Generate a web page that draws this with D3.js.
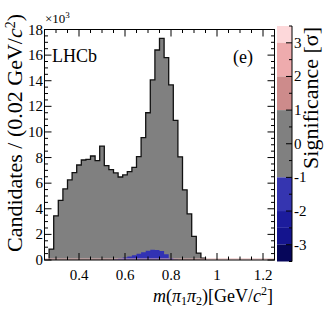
<!DOCTYPE html>
<html><head><meta charset="utf-8">
<script src="https://cdn.jsdelivr.net/npm/d3@7"></script>
<style>html,body{margin:0;padding:0;background:#fff;} svg{display:block;} text{font-family:"Liberation Serif","Times New Roman",serif;fill:#000;}</style>
</head><body>
<svg id="c" width="324" height="313"></svg>
<script>
// ---- data (values in units of 10^3 candidates per 0.02 GeV/c^2) ----
const binLow = [0.27,0.29,0.31,0.33,0.35,0.37,0.39,0.41,0.43,0.45,0.47,0.49,0.51,0.53,0.55,0.57,0.59,0.61,0.63,0.65,0.67,0.69,0.71,0.73,0.75,0.77,0.79,0.81,0.83,0.85,0.87,0.89,0.91,0.93];
const totalCounts = [0.85,3.45,4.66,5.55,6.25,6.82,7.42,7.81,7.86,8.12,7.76,8.9,7.37,7.05,6.8,6.48,6.64,6.9,7.24,8.07,9.55,11.5,14.06,16.4,17.3,15.8,13.67,10.9,8.06,5.48,3.6,1.84,0.54,0.15];
const blueLow = [0.55,0.57,0.59,0.61,0.63,0.65,0.67,0.69,0.71,0.73,0.75,0.77,0.79,0.81];
const blueCounts = [0.05,0.12,0.2,0.28,0.38,0.48,0.6,0.72,0.8,0.78,0.7,0.45,0.15,0.03];
const binWidth = 0.02;
const xTicks = [0.4,0.6,0.8,1.0,1.2];
const yTicks = [0,2,4,6,8,10,12,14,16,18];
const sigBands = [3,2,1,-1,-2,-2.5,-3,-3.5];
const sigBandColors = ["#fdd8da","#eeabad","#cd8b8b","#808080","#3535b0","#1c1c9c","#14148e","#06065a"];
const sigTicks = [3,2,1,0,-1,-2,-3];

const svg = d3.select("#c");
const x = d3.scaleLinear().domain([0.25,1.25]).range([44.5,274.5]);
const y = d3.scaleLinear().domain([0,18]).range([260,29.5]);
const s = d3.scaleLinear().domain([-3.5,3.5]).range([261.5,26]);

function stepPath(lows, vals){
  let p = `M${x(lows[0])},${y(0)}`;
  lows.forEach((l,i)=>{ p += `L${x(l)},${y(vals[i])}L${x(l+binWidth)},${y(vals[i])}`; });
  p += `L${x(lows[lows.length-1]+binWidth)},${y(0)}`;
  return p;
}
svg.append("path").attr("d", stepPath(binLow,totalCounts)+"Z")
  .attr("fill","#808080").attr("stroke","none");
svg.append("path").attr("d", stepPath(blueLow,blueCounts)+"Z")
  .attr("fill","#3232b4").attr("stroke","none");
svg.append("path").attr("d", stepPath(binLow,totalCounts))
  .attr("fill","none").attr("stroke","#111").attr("stroke-width",1.3);
svg.append("line").attr("x1",x(0.25)).attr("x2",x(1.25)).attr("y1",y(0)-1).attr("y2",y(0)-1)
  .attr("stroke","#e8b4b4").attr("stroke-width",1.2);

svg.append("rect").attr("x",x(0.25)).attr("y",y(18)).attr("width",x(1.25)-x(0.25)).attr("height",y(0)-y(18))
  .attr("fill","none").attr("stroke","#000").attr("stroke-width",1);

const g = svg.append("g").attr("stroke","#000").attr("stroke-width",1);
d3.range(0.25,1.2501,0.05).forEach(v=>{
  const major = xTicks.some(t=>Math.abs(t-v)<1e-6);
  const L = major?7:3.5;
  g.append("line").attr("x1",x(v)).attr("x2",x(v)).attr("y1",y(0)).attr("y2",y(0)-L);
  g.append("line").attr("x1",x(v)).attr("x2",x(v)).attr("y1",y(18)).attr("y2",y(18)+L);
});
d3.range(0,18.001,0.5).forEach(v=>{
  const major = yTicks.some(t=>Math.abs(t-v)<1e-6);
  const L = major?7:3.5;
  g.append("line").attr("y1",y(v)).attr("y2",y(v)).attr("x1",x(0.25)).attr("x2",x(0.25)+L);
  g.append("line").attr("y1",y(v)).attr("y2",y(v)).attr("x1",x(1.25)).attr("x2",x(1.25)-L);
});

const fmt = d3.format("~g");
svg.selectAll(".xl").data(xTicks).enter().append("text")
  .attr("x",d=>x(d)).attr("y",280).attr("text-anchor","middle").attr("font-size",15).text(d=>fmt(d));
svg.selectAll(".yl").data(yTicks).enter().append("text")
  .attr("x",43).attr("y",d=>y(d)+5).attr("text-anchor","end").attr("font-size",15).text(d=>fmt(d));

const e = svg.append("text").attr("x",45).attr("y",23).attr("font-size",13);
e.append("tspan").text("×10");
e.append("tspan").attr("dy",-5).attr("font-size",9).text("3");

svg.append("text").attr("x",52).attr("y",62).attr("font-size",18).text("LHCb");
svg.append("text").attr("x",233).attr("y",63).attr("font-size",18).text("(e)");

const xt = svg.append("text").attr("x",273).attr("y",302).attr("text-anchor","end").attr("font-size",18);
xt.append("tspan").attr("font-style","italic").text("m");
xt.append("tspan").text("(");
xt.append("tspan").attr("font-style","italic").text("π");
xt.append("tspan").attr("font-size",12).attr("dy",3).text("1");
xt.append("tspan").attr("font-style","italic").attr("dy",-3).text("π");
xt.append("tspan").attr("font-size",12).attr("dy",3).text("2");
xt.append("tspan").attr("dy",-3).text(")[GeV/");
xt.append("tspan").attr("font-style","italic").text("c");
xt.append("tspan").attr("font-size",12).attr("dy",-7).text("2");
xt.append("tspan").attr("dy",7).text("]");

const yt = svg.append("text").attr("transform","translate(22,14) rotate(-90)").attr("text-anchor","end").attr("font-size",22);
yt.append("tspan").text("Candidates / (0.02 GeV/");
yt.append("tspan").attr("font-style","italic").text("c");
yt.append("tspan").attr("font-size",14).attr("dy",-7).text("2");
yt.append("tspan").attr("dy",7).text(")");

const cbx0 = 277, cbx1 = 292;
const tops = [3.5].concat(sigBands.slice(0,-1));
sigBands.forEach((lo,i)=>{
  svg.append("rect").attr("x",cbx0).attr("width",cbx1-cbx0)
    .attr("y",s(tops[i])).attr("height",s(lo)-s(tops[i])).attr("fill",sigBandColors[i]);
});
svg.append("line").attr("x1",cbx1).attr("x2",cbx1).attr("y1",s(3.5)).attr("y2",s(-3.5)).attr("stroke","#000").attr("stroke-width",1);
sigTicks.forEach(t=>{
  svg.append("line").attr("x1",cbx1).attr("x2",cbx1-6).attr("y1",s(t)).attr("y2",s(t)).attr("stroke","#000");
  svg.append("text").attr("x",294).attr("y",s(t)+5).attr("font-size",15).text(t<0?"-"+Math.abs(t):String(t));
});
d3.range(-3.5,3.5001,0.5).forEach(t=>{
  if(!Number.isInteger(t)) svg.append("line").attr("x1",cbx1).attr("x2",cbx1-3).attr("y1",s(t)).attr("y2",s(t)).attr("stroke","#000");
});
const st = svg.append("text").attr("transform","translate(318,27) rotate(-90)").attr("text-anchor","end").attr("font-size",22);
st.append("tspan").text("Significance [σ]");
</script>
</body></html>
